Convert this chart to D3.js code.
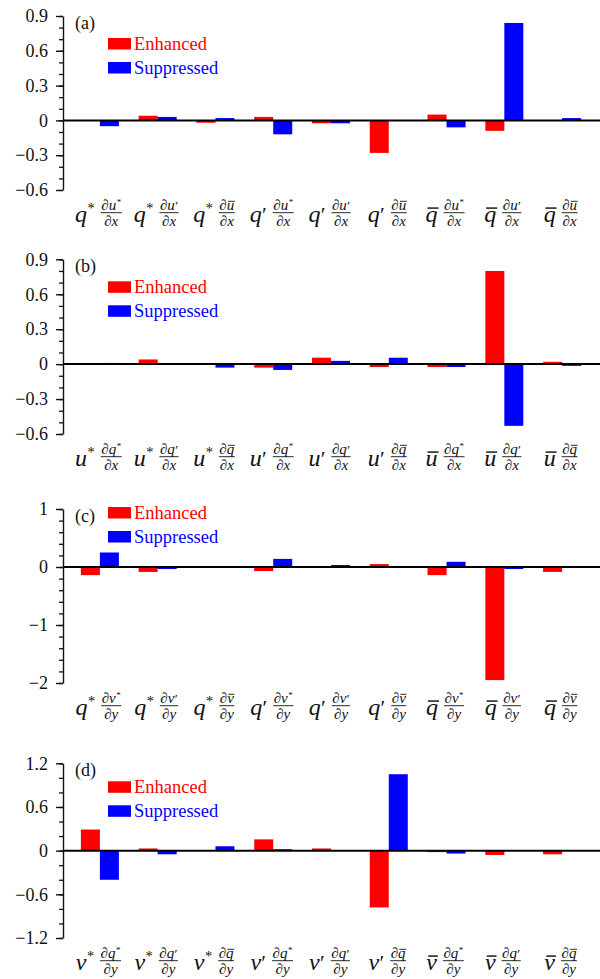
<!DOCTYPE html>
<html>
<head>
<meta charset="utf-8">
<script src="https://cdn.jsdelivr.net/npm/d3@7"></script>
<style>
  body { margin: 0; background: #fff; }
  svg text { font-family: 'Liberation Serif', serif; }
</style>
</head>
<body>
<svg id="chart" width="600" height="979"></svg>
<script>
// categories: "base ∂num/∂den", \u0304 = overbar
var catsA = ["q* ∂u*/∂x", "q* ∂u′/∂x", "q* ∂u\u0304/∂x", "q′ ∂u*/∂x", "q′ ∂u′/∂x", "q′ ∂u\u0304/∂x", "q\u0304 ∂u*/∂x", "q\u0304 ∂u′/∂x", "q\u0304 ∂u\u0304/∂x"];
var catsB = ["u* ∂q*/∂x", "u* ∂q′/∂x", "u* ∂q\u0304/∂x", "u′ ∂q*/∂x", "u′ ∂q′/∂x", "u′ ∂q\u0304/∂x", "u\u0304 ∂q*/∂x", "u\u0304 ∂q′/∂x", "u\u0304 ∂q\u0304/∂x"];
var catsC = ["q* ∂v*/∂y", "q* ∂v′/∂y", "q* ∂v\u0304/∂y", "q′ ∂v*/∂y", "q′ ∂v′/∂y", "q′ ∂v\u0304/∂y", "q\u0304 ∂v*/∂y", "q\u0304 ∂v′/∂y", "q\u0304 ∂v\u0304/∂y"];
var catsD = ["v* ∂q*/∂y", "v* ∂q′/∂y", "v* ∂q\u0304/∂y", "v′ ∂q*/∂y", "v′ ∂q′/∂y", "v′ ∂q\u0304/∂y", "v\u0304 ∂q*/∂y", "v\u0304 ∂q′/∂y", "v\u0304 ∂q\u0304/∂y"];

var series = ["Enhanced", "Suppressed"];

var enhancedA = [0, 0.04, -0.02, 0.03, -0.025, -0.28, 0.05, -0.09, -0.005];
var suppressedA = [-0.05, 0.03, 0.02, -0.12, -0.025, -0.005, -0.06, 0.84, 0.02];
var enhancedB = [0, 0.04, 0.01, -0.03, 0.055, -0.025, -0.025, 0.80, 0.02];
var suppressedB = [0.01, 0, -0.03, -0.05, 0.028, 0.055, -0.025, -0.53, -0.015];
var enhancedC = [-0.14, -0.085, 0.01, -0.07, 0, 0.05, -0.14, -1.95, -0.085];
var suppressedC = [0.25, -0.035, 0, 0.14, 0.035, 0, 0.09, -0.035, 0];
var enhancedD = [0.29, 0.03, 0, 0.155, 0.03, -0.78, -0.02, -0.06, -0.05];
var suppressedD = [-0.40, -0.05, 0.06, 0.02, 0, 1.05, -0.04, 0, 0];

var ticksA = [-0.6, -0.3, 0, 0.3, 0.6, 0.9];
var ticksB = [-0.6, -0.3, 0, 0.3, 0.6, 0.9];
var ticksC = [-2, -1, 0, 1];
var ticksD = [-1.2, -0.6, 0, 0.6, 1.2];

var colors = { Enhanced: "#ff0000", Suppressed: "#0000ff" };
var serif = "'Liberation Serif', serif";

var svg = d3.select("#chart");
var axisX = 63, rightX = 600;

var panels = [
  { tag: "(a)", cats: catsA, enh: enhancedA, sup: suppressedA, ticks: ticksA, minor: 0.1, top: 16, bottom: 190, legend: 22 },
  { tag: "(b)", cats: catsB, enh: enhancedB, sup: suppressedB, ticks: ticksB, minor: 0.1, top: 259.3, bottom: 434, legend: 22 },
  { tag: "(c)", cats: catsC, enh: enhancedC, sup: suppressedC, ticks: ticksC, minor: 0.2, top: 509, bottom: 683, legend: -2 },
  { tag: "(d)", cats: catsD, enh: enhancedD, sup: suppressedD, ticks: ticksD, minor: 0.2, top: 763.3, bottom: 938, legend: 18 }
];

function fmt(d) { return d === 0 ? "0" : d3.format("")(d); }

function txt(g) {
  return g.append("text").style("font-family", serif);
}

// draws a letter with mark (*, ′, overbar); returns its width
function drawTerm(g, str, x, y, fs) {
  var letter = str[0], mark = str.slice(1);
  var t = txt(g).attr("x", x).attr("y", y)
    .style("font-size", fs + "px").style("font-style", "italic").text(letter);
  var w = t.node().getComputedTextLength();
  if (mark === "*") {
    var s = txt(g).attr("x", x + w + 0.5).attr("y", y - fs * 0.36)
      .style("font-size", (fs * 0.6) + "px").text("*");
    w += s.node().getComputedTextLength() + 0.5;
  } else if (mark === "′") {
    var p = txt(g).attr("x", x + w + 0.3).attr("y", y)
      .style("font-size", (fs * 0.9) + "px").text("′");
    w += p.node().getComputedTextLength() + 0.3;
  } else if (mark === "\u0304") {
    g.append("line").attr("x1", x + fs * 0.08).attr("x2", x + w + fs * 0.04)
      .attr("y1", y - fs * 0.58).attr("y2", y - fs * 0.58)
      .attr("stroke", "#111").attr("stroke-width", Math.max(0.9, fs * 0.06));
  }
  return w;
}

function drawLabel(parent, label, cx, yb) {
  var parts = label.split(" ");
  var frac = parts[1].split("/");
  var g = parent.append("g").attr("fill", "#111");
  var mainW = drawTerm(g, parts[0], 0, yb + 32, 24);
  var gap = 6;
  var fx = mainW + gap;
  var ng = g.append("g");
  var d1 = txt(ng).attr("x", 0).attr("y", yb + 20).style("font-size", "15px")
    .style("font-style", "italic").text("∂");
  var dw = d1.node().getComputedTextLength();
  var numW = dw + drawTerm(ng, frac[0].slice(1), dw, yb + 20, 15);
  var den = txt(g).attr("y", yb + 35.5).style("font-size", "15px")
    .style("font-style", "italic").text(frac[1]);
  var denW = den.node().getComputedTextLength();
  var lineW = Math.max(numW, denW) + 1;
  ng.attr("transform", "translate(" + (fx + (lineW - numW) / 2) + ",0)");
  den.attr("x", fx + (lineW - denW) / 2);
  g.append("line").attr("x1", fx).attr("x2", fx + lineW)
    .attr("y1", yb + 22.7).attr("y2", yb + 22.7)
    .attr("stroke", "#111").attr("stroke-width", 0.9);
  var total = fx + lineW;
  g.attr("transform", "translate(" + (cx - 1.5 - total / 2) + ",0)");
}

panels.forEach(function (p) {
  var dom = d3.extent(p.ticks);
  var y = d3.scaleLinear().domain(dom).range([p.bottom, p.top]);
  var x0 = d3.scaleBand().domain(d3.range(p.cats.length)).range([71, 591]);
  var x1 = d3.scaleBand().domain(series).range([0, x0.bandwidth()]).paddingOuter(0.52);

  var g = svg.append("g");

  // bars
  var rows = p.cats.map(function (c, i) {
    return { i: i, vals: [{ s: "Enhanced", v: p.enh[i] }, { s: "Suppressed", v: p.sup[i] }] };
  });
  g.selectAll("g.grp").data(rows).enter().append("g")
    .attr("transform", function (d) { return "translate(" + x0(d.i) + ",0)"; })
    .selectAll("rect").data(function (d) { return d.vals; }).enter().append("rect")
    .attr("x", function (d) { return x1(d.s); })
    .attr("width", x1.bandwidth())
    .attr("y", function (d) { return y(Math.max(0, d.v)); })
    .attr("height", function (d) { return Math.abs(y(d.v) - y(0)); })
    .attr("fill", function (d) { return colors[d.s]; });

  // zero line
  g.append("line").attr("x1", axisX).attr("x2", rightX)
    .attr("y1", y(0)).attr("y2", y(0))
    .attr("stroke", "#000").attr("stroke-width", 2);

  // minor ticks
  var minor = d3.range(Math.round(dom[0] / p.minor), Math.round(dom[1] / p.minor) + 1)
    .map(function (k) { return +(k * p.minor).toFixed(3); });
  g.append("g").attr("transform", "translate(" + axisX + ",0)")
    .call(d3.axisLeft(y).tickValues(minor).tickSize(4).tickFormat(""))
    .call(function (a) { a.select(".domain").remove(); a.selectAll("line").attr("stroke", "#111").attr("stroke-width", 1.3); });

  // major axis
  g.append("g").attr("transform", "translate(" + axisX + ",0)")
    .call(d3.axisLeft(y).tickValues(p.ticks).tickSize(7).tickSizeOuter(0).tickPadding(8).tickFormat(fmt))
    .call(function (a) {
      a.attr("font-family", null);
      a.select(".domain").attr("stroke", "#111").attr("stroke-width", 1.4);
      a.selectAll("line").attr("stroke", "#111").attr("stroke-width", 1.4);
      a.selectAll("text").attr("fill", "#111").style("font-size", "18px")
        .style("font-family", serif);
    });

  // panel tag
  txt(g).attr("x", 75).attr("y", p.top + 13).style("font-size", "18px")
    .attr("fill", "#111").text(p.tag);

  // legend
  series.forEach(function (s, k) {
    var ly = p.top + p.legend + k * 24;
    g.append("rect").attr("x", 108).attr("y", ly).attr("width", 23).attr("height", 11.5)
      .attr("fill", colors[s]);
    txt(g).attr("x", 134).attr("y", ly + 11.5).style("font-size", "18.5px")
      .attr("fill", colors[s]).text(s);
  });

  // category labels
  p.cats.forEach(function (c, i) {
    drawLabel(g, c, x0(i) + x0.bandwidth() / 2, p.bottom);
  });
});
</script>
</body>
</html>
